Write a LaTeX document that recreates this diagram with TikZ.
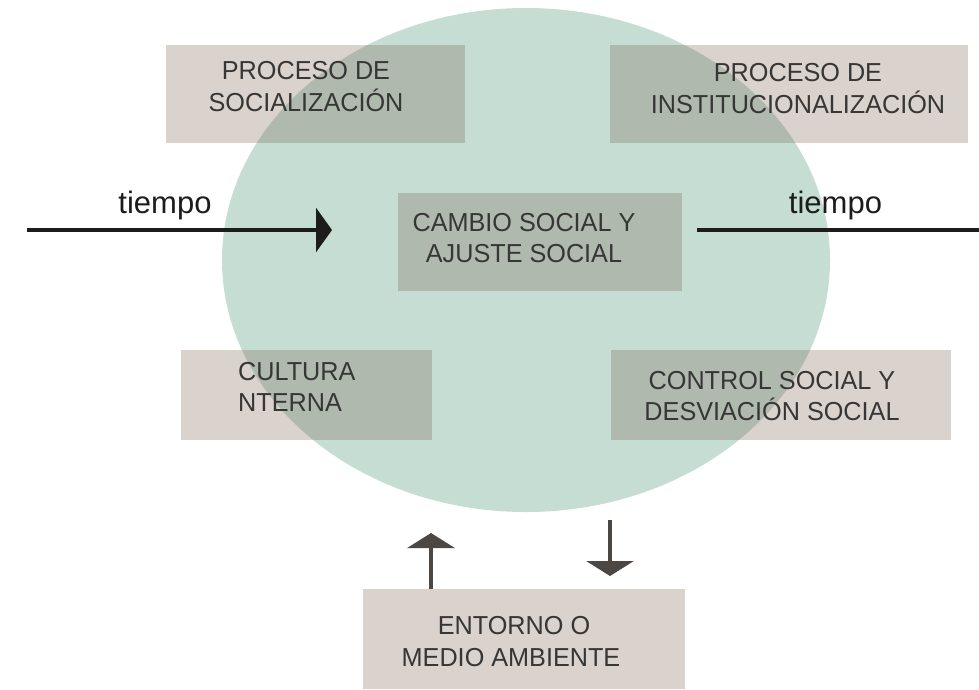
\documentclass[tikz,border=0pt]{standalone}
\usepackage{fontspec}
\setmainfont{Liberation Sans}
\newfontfamily\boxfont{Liberation Sans}[FakeStretch=0.97]
\usetikzlibrary{arrows.meta}
\definecolor{circ}{HTML}{C5DDD3}
\definecolor{boxc}{HTML}{80695A}
\definecolor{txtc}{HTML}{363636}
\definecolor{timec}{HTML}{1C1C1C}
\definecolor{arrc}{HTML}{4D4743}
\begin{document}
\begin{tikzpicture}[x=1pt,y=-1pt,
  panel/.style={fill=boxc, fill opacity=0.3, draw=none, inner sep=0pt, outer sep=0pt},
  boxtext/.style={text=txtc, font=\boxfont\fontsize{26}{32}\selectfont, inner sep=0pt, anchor=base},
  timetext/.style={text=timec, font=\fontsize{31}{36}\selectfont, inner sep=0pt, anchor=base},
  timeline/.style={draw=timec, line width=3.2pt},
  fluxarrow/.style={draw=arrc, line width=4pt, -{Triangle[width=47pt,length=15pt]}}]
\useasboundingbox (0,0) rectangle (979,689);
% central circle
\fill[circ] (526,260) ellipse [x radius=304, y radius=252];
\node[circle, minimum size=0pt, inner sep=0pt] (core) at (526,260) {};
% panels
\node[panel, minimum width=299pt, minimum height=98pt] (socbox)  at (315.5,94) {};
\node[panel, minimum width=358pt, minimum height=98pt] (instbox) at (789,94) {};
\node[panel, minimum width=284pt, minimum height=98pt] (cambox)  at (540,242) {};
\node[panel, minimum width=251pt, minimum height=90pt] (culbox)  at (306.5,395) {};
\node[panel, minimum width=340pt, minimum height=90pt] (ctlbox)  at (781,395) {};
\node[panel, minimum width=322pt, minimum height=100pt] (entbox) at (524,639) {};
% texts
\node[boxtext] (soc1) at (306,79) {PROCESO DE};
\node[boxtext] (soc2) at (306,111) {SOCIALIZACIÓN};
\node[boxtext] (inst1) at (798,81) {PROCESO DE};
\node[boxtext] (inst2) at (798,113) {INSTITUCIONALIZACIÓN};
\node[boxtext] (cam1) at (524,231) {CAMBIO SOCIAL Y};
\node[boxtext] (cam2) at (524,262) {AJUSTE SOCIAL};
\node[boxtext, anchor=base west] (cul1) at (238,380) {CULTURA};
\node[boxtext, anchor=base west] (cul2) at (238,411) {NTERNA};
\node[boxtext] (ctl1) at (772,389) {CONTROL SOCIAL Y};
\node[boxtext] (ctl2) at (772,420) {DESVIACIÓN SOCIAL};
\node[boxtext] (ent1) at (514,634) {ENTORNO O};
\node[boxtext] (ent2) at (511,666) {MEDIO AMBIENTE};
% time arrows
\node[timetext] (tl) at (165,213) {tiempo};
\node[timetext] (tr) at (835.5,213) {tiempo};
\coordinate (tlstart) at (27,230);
\coordinate (tlend) at (332,230);
\coordinate (trstart) at (697,230);
\coordinate (trend) at (979,230);
\draw[timeline, -{Triangle[width=44pt,length=16pt]}] (tlstart) -- (tlend);
\draw[timeline] (trstart) -- (trend);
% environment arrows
\coordinate (uptip) at (431,533);
\coordinate (downstart) at (610,520);
\coordinate (downtip) at (610,576);
\draw[fluxarrow] (entbox.north -| uptip) -- (uptip);
\draw[fluxarrow] (downstart) -- (downtip);
\end{tikzpicture}
\end{document}
